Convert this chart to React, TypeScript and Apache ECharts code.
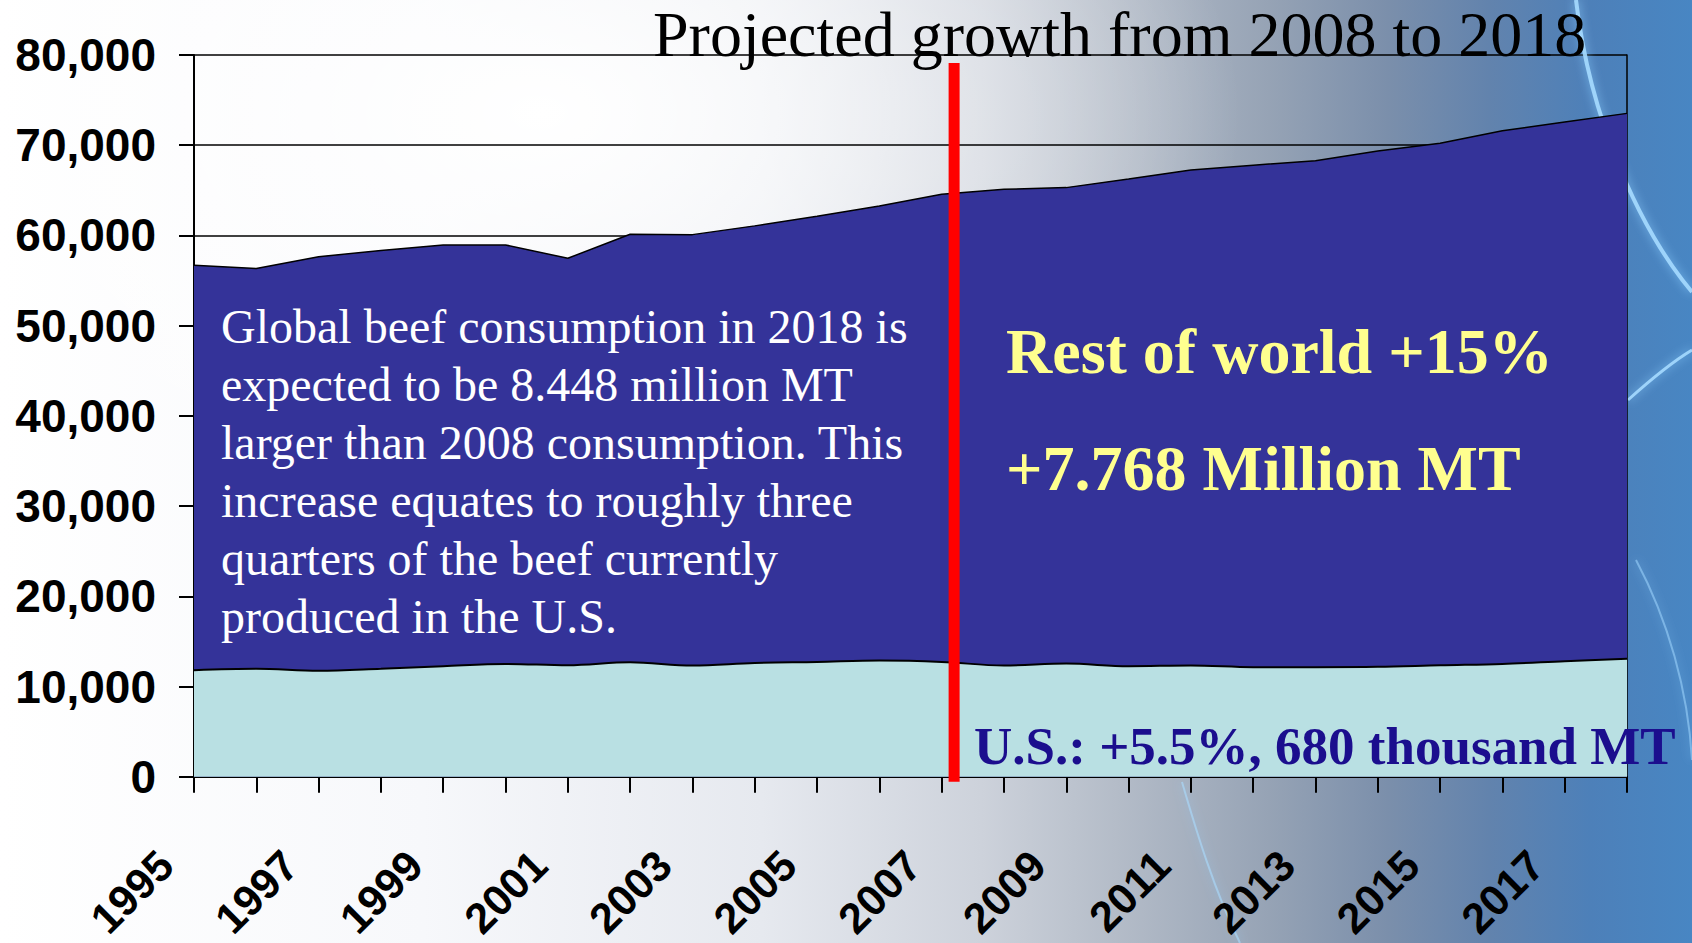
import React, { useEffect, useRef } from "react";
import * as echarts from "echarts";

// Years on the category axis
const years = [
  "1995", "1996", "1997", "1998", "1999", "2000", "2001", "2002", "2003", "2004", "2005", "2006",
  "2007", "2008", "2009", "2010", "2011", "2012", "2013", "2014", "2015", "2016", "2017", "2018",
];

// Total world beef consumption (thousand MT) – top of the navy area
const worldTotal = [
  56700, 56330, 57650, 58320, 58950, 58950, 57470, 60130, 60090, 61060, 62120, 63270,
  64560, 65120, 65300, 66260, 67250, 67780, 68290, 69360, 70210, 71610, 72570, 73530,
];

// U.S. beef consumption (thousand MT) – light cyan area
const usConsumption = [
  11800, 11960, 11740, 11960, 12250, 12510, 12360, 12690, 12330, 12620, 12730, 12880,
  12730, 12330, 12550, 12250, 12330, 12140, 12140, 12180, 12360, 12510, 12800, 13070,
];

const yMin = 0;
const yMax = 80000;
const yStep = 10000;

const titleText = "Projected growth from 2008 to 2018";
const noteLines = [
  "Global beef consumption in 2018 is",
  "expected to be 8.448 million MT",
  "larger than 2008 consumption. This",
  "increase equates to roughly three",
  "quarters of the beef currently",
  "produced in the U.S.",
];
const rowLine1 = "Rest of world +15%";
const rowLine2 = "+7.768 Million MT";
const usNote = "U.S.: +5.5%, 680 thousand MT";
const projectionStartIndex = 12.2; // between 2007 and 2008

const SERIF = '"Liberation Serif", "Times New Roman", serif';
const SANS = '"Liberation Sans", Arial, sans-serif';

export default function App() {
  const ref = useRef<HTMLDivElement>(null);

  useEffect(() => {
    document.body.style.margin = "0";
    const chart = echarts.init(ref.current as HTMLDivElement, null, { renderer: "svg" });
    chart.setOption({
      animation: false,
      backgroundColor: "transparent",
      grid: { left: 194, top: 55, width: 1433, height: 722, containLabel: false },
      xAxis: {
        type: "category",
        data: years,
        boundaryGap: false,
        axisLine: { show: true, lineStyle: { color: "#000", width: 2 } },
        axisTick: { show: true, interval: 0, length: 16, lineStyle: { color: "#000", width: 2 } },
        axisLabel: {
          interval: 1,
          rotate: 45,
          margin: 53,
          padding: [0, 40, 0, 0],
          color: "#000",
          fontFamily: SANS,
          fontWeight: "bold",
          fontSize: 43,
        },
        splitLine: { show: false },
      },
      yAxis: [
        {
          type: "value",
          min: yMin,
          max: yMax,
          interval: yStep,
          axisLine: { show: true, lineStyle: { color: "#000", width: 2 } },
          axisTick: { show: true, length: 15, lineStyle: { color: "#000", width: 2 } },
          axisLabel: {
            margin: 38,
            color: "#000",
            fontFamily: SANS,
            fontWeight: "bold",
            fontSize: 46,
            formatter: (v: number) => v.toLocaleString("en-US"),
          },
          splitLine: { show: true, lineStyle: { color: "#000", width: 1.5 } },
        },
        {
          type: "value",
          position: "right",
          min: yMin,
          max: yMax,
          interval: yStep,
          axisLine: { show: true, lineStyle: { color: "#000", width: 1.5 } },
          axisTick: { show: false },
          axisLabel: { show: false },
          splitLine: { show: false },
        },
      ],
      series: [
        {
          name: "World",
          type: "line",
          data: worldTotal,
          showSymbol: false,
          symbol: "none",
          lineStyle: { color: "#000", width: 1.5 },
          areaStyle: { color: "#343399", opacity: 1 },
          z: 2,
        },
        {
          name: "U.S.",
          type: "line",
          data: usConsumption,
          smooth: 0.35,
          showSymbol: false,
          symbol: "none",
          lineStyle: { color: "#000", width: 2 },
          areaStyle: { color: "#b9e0e3", opacity: 1 },
          z: 3,
        },
      ],
    });

    const i0 = Math.floor(projectionStartIndex);
    const pA = chart.convertToPixel({ xAxisIndex: 0 }, i0) as number;
    const pB = chart.convertToPixel({ xAxisIndex: 0 }, i0 + 1) as number;
    const redX = pA + (projectionStartIndex - i0) * (pB - pA);
    const yZero = chart.convertToPixel({ yAxisIndex: 0 }, yMin) as number;
    const yTop = chart.convertToPixel({ yAxisIndex: 0 }, yMax) as number;

    const glow = {
      stroke: "rgba(165,218,255,0.9)",
      fill: "none",
      lineWidth: 3,
      shadowBlur: 10,
      shadowColor: "rgba(140,205,255,0.9)",
    };

    chart.setOption({
      graphic: [
        { type: "bezierCurve", z: 0, shape: { x1: 1576, y1: 0, cpx1: 1590, cpy1: 120, cpx2: 1640, cpy2: 230, x2: 1692, y2: 292 }, style: { ...glow, lineWidth: 4 } },
        { type: "bezierCurve", z: 0, shape: { x1: 1692, y1: 350, cpx1: 1672, cpy1: 362, cpx2: 1648, cpy2: 382, x2: 1628, y2: 400 }, style: { ...glow, lineWidth: 3 } },
        { type: "bezierCurve", z: 0, shape: { x1: 1636, y1: 560, cpx1: 1668, cpy1: 620, cpx2: 1688, cpy2: 690, x2: 1692, y2: 760 }, style: { ...glow, lineWidth: 2, stroke: "rgba(160,215,255,0.55)" } },
        { type: "bezierCurve", z: 0, shape: { x1: 1182, y1: 782, cpx1: 1196, cpy1: 830, cpx2: 1214, cpy2: 890, x2: 1240, y2: 943 }, style: { ...glow, lineWidth: 2, stroke: "rgba(170,220,255,0.6)" } },
        {
          type: "line",
          z: 50,
          shape: { x1: redX, y1: yTop + 8, x2: redX, y2: yZero + 5 },
          style: { stroke: "#ff0000", lineWidth: 11 },
        },
        {
          type: "text",
          z: 60,
          x: 653,
          y: 34,
          style: { text: titleText, fill: "#000", font: `64px ${SERIF}`, textAlign: "left", textVerticalAlign: "middle" },
        },
        ...noteLines.map((t, i) => ({
          type: "text",
          z: 60,
          x: 221,
          y: 326 + i * 58,
          style: { text: t, fill: "#ffffff", font: `48px ${SERIF}`, textAlign: "left", textVerticalAlign: "middle" },
        })),
        {
          type: "text",
          z: 60,
          x: 1006,
          y: 351,
          style: { text: rowLine1, fill: "#ffff8f", font: `bold 64px ${SERIF}`, textAlign: "left", textVerticalAlign: "middle" },
        },
        {
          type: "text",
          z: 60,
          x: 1006,
          y: 468,
          style: { text: rowLine2, fill: "#ffff8f", font: `bold 64px ${SERIF}`, textAlign: "left", textVerticalAlign: "middle" },
        },
        {
          type: "text",
          z: 60,
          x: 974,
          y: 746,
          style: { text: usNote, fill: "#1b0e8e", font: `bold 53px ${SERIF}`, textAlign: "left", textVerticalAlign: "middle" },
        },
      ],
    });

    return () => chart.dispose();
  }, []);

  return (
    <div
      style={{
        position: "absolute",
        left: 0,
        top: 0,
        width: 1692,
        height: 943,
        background:
          "radial-gradient(ellipse 700px 420px at 32% 12%, rgba(255,255,255,1) 0%, rgba(255,255,255,0) 100%)," +
          "linear-gradient(to right, #ffffff 0%, #f7f8fb 25%, #e6e9ef 45%, #cdd2db 58%, #b4bcc8 66%, #96a3b5 75%, #7b8fab 82%, #6283ad 88%, #4d80b9 94%, #4886c3 100%)",
      }}
    >
      <div ref={ref} style={{ width: 1692, height: 943 }} />
    </div>
  );
}
